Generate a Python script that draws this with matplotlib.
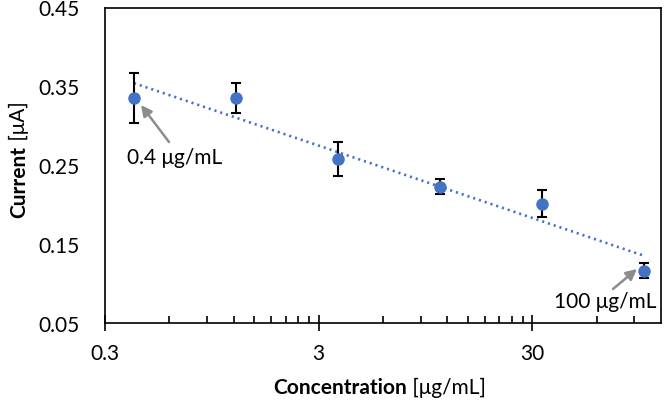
import numpy as np
import matplotlib
matplotlib.use("Agg")
import matplotlib.pyplot as plt
from matplotlib.ticker import FixedLocator, NullFormatter, FixedFormatter

plt.rcParams['font.family'] = ['Lato', 'DejaVu Sans']

conc = [0.41, 1.23, 3.7, 11.1, 33.3, 100.0]
current = [0.335, 0.335, 0.258, 0.223, 0.201, 0.116]
err = [0.032, 0.019, 0.022, 0.0095, 0.017, 0.0095]
xticks = [0.3, 3, 30]
xticklabels = ["0.3", "3", "30"]
yticks = [0.05, 0.15, 0.25, 0.35, 0.45]

blue = "#4472C4"
FS = 15
fig = plt.figure(figsize=(6.65, 4.10), dpi=100)
ax = fig.add_axes([105/665, 1-324/410, (661-105)/665, (324-8.5)/410])

ax.set_xscale('log')
ax.set_xlim(0.3, 120)
ax.set_ylim(0.05, 0.45)

# log trendline
lx = np.log10(conc)
a, b = np.polyfit(lx, current, 1)
xt = np.array([conc[0], conc[-1]])
ax.plot(xt, a*np.log10(xt)+b, color=blue, lw=1.9, linestyle=(0, (0.8, 1.5)), zorder=2)

ax.errorbar(conc, current, yerr=err, fmt='o', color=blue, ms=8,
            ecolor='black', elinewidth=1.5, capsize=3.5, capthick=1.5, zorder=3)

ax.xaxis.set_major_locator(FixedLocator(xticks))
ax.xaxis.set_major_formatter(FixedFormatter(xticklabels))
minors = []
for dec in [0.3, 3, 30]:
    for k in range(2, 10):
        v = dec*k
        if v < 120:
            minors.append(v)
ax.xaxis.set_minor_locator(FixedLocator(minors))
ax.xaxis.set_minor_formatter(NullFormatter())
ax.tick_params(axis='x', which='major', direction='inout', length=11, width=1.2, labelsize=FS, pad=9, colors='black')
ax.tick_params(axis='x', which='minor', direction='in', length=5, width=1.2)
ax.set_yticks(yticks)
ax.set_yticklabels([f"{v:.2f}" for v in yticks])
ax.tick_params(axis='y', length=0, labelsize=FS, pad=18)
for s in ax.spines.values():
    s.set_linewidth(1.2)
    s.set_color('black')

arrowprops = dict(arrowstyle='-|>', color='#8c8c8c', lw=1.8, mutation_scale=16, shrinkA=0, shrinkB=0)
ax.annotate("0.4 μg/mL", xy=(conc[0], current[0]), xytext=(127, 410-158),
            textcoords='figure pixels', fontsize=FS, va='center', ha='left')
ax.annotate("", xy=(141, 410-106), xycoords='figure pixels', xytext=(169, 410-143),
            textcoords='figure pixels', arrowprops=arrowprops)
ax.annotate("100 μg/mL", xy=(conc[-1], current[-1]), xytext=(657, 410-302),
            textcoords='figure pixels', fontsize=FS, va='center', ha='right')
ax.annotate("", xy=(637, 410-270), xycoords='figure pixels', xytext=(613, 410-290),
            textcoords='figure pixels', arrowprops=arrowprops)

# axis labels with mixed weight
fig.canvas.draw()
r = fig.canvas.get_renderer()
t1 = fig.text(0, (410-388)/410, "Concentration", fontsize=FS, fontweight='bold', va='center', ha='left')
t2 = fig.text(0, (410-388)/410, " [μg/mL]", fontsize=FS, va='center', ha='left')
w1 = t1.get_window_extent(r).width
w2 = t2.get_window_extent(r).width
cx = 380
t1.set_x((cx - (w1+w2)/2)/665)
t2.set_x((cx - (w1+w2)/2 + w1)/665)

u1 = fig.text(19/665, 0, "Current", fontsize=FS, fontweight='bold', rotation=90, va='bottom', ha='center')
u2 = fig.text(19/665, 0, " [μA]", fontsize=FS, rotation=90, va='bottom', ha='center')
h1 = u1.get_window_extent(r).height
h2 = u2.get_window_extent(r).height
cy = 410-160
u1.set_y((cy - (h1+h2)/2)/410)
u2.set_y((cy - (h1+h2)/2 + h1)/410)

fig.savefig("out.png", dpi=100)
